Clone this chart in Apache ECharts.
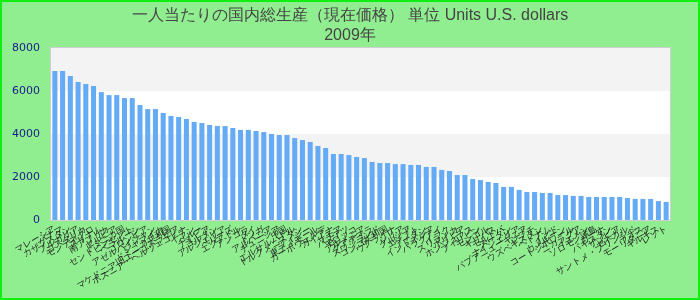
<!DOCTYPE html>
<html>
<head>
<meta charset="utf-8">
<script src="https://cdn.jsdelivr.net/npm/echarts@6/dist/echarts.min.js"></script>
<style>
html,body{margin:0;padding:0;}
#chart{width:700px;height:300px;}
</style>
</head>
<body>
<div id="chart"></div>
<script>
var titleText = "一人当たりの国内総生産（現在価格） 単位 Units U.S. dollars\n2009年";
var categories = [
"マレーシア","パナマ","カザフスタン","ブルガリア","コスタリカ","モンテネグロ","スリナム","南アフリカ","セルビア","ドミニカ国",
"セントビンセント","ベラルーシ","コロンビア","アゼルバイジャン","ジャマイカ","ドミニカ共和国","マケドニア旧ユーゴスラビア","ボスニア・ヘルツェゴビナ","イラン","ペルー",
"ナミビア","ヨルダン","アルジェリア","ベリーズ","エクアドル","アンゴラ","タイ","トンガ","アルバニア","チュニジア",
"中国","エルサルバドル","トルクメニスタン","フィジー","東ティモール","カーボヴェルデ","ガイアナ","サモア","バヌアツ","モロッコ",
"アルメニア","グアテマラ","スワジランド","コンゴ共和国","ウクライナ","シリア","グルジア","エジプト","ブータン","インドネシア",
"パラグアイ","イラク","スリランカ","ボリビア","ホンジュラス","フィリピン","モンゴル","キリバス","モルドバ","スーダン",
"ナイジェリア","パプアニューギニア","ジブチ","ウズベキスタン","ベトナム","インド","カメルーン","コートジボワール","ニカラグア","イエメン",
"ソロモン諸島","ガーナ","パキスタン","ザンビア","セネガル","サントメ・プリンシペ","ラオス","モーリタニア","キルギス","レソト"
];
var values = [
6930,6930,6700,6420,6330,6230,5950,5810,5810,5670,
5670,5350,5160,5160,4980,4840,4790,4700,4560,4510,
4420,4370,4370,4280,4190,4190,4140,4090,4000,3950,
3950,3810,3720,3630,3440,3350,3070,3070,3020,2930,
2880,2700,2650,2650,2600,2600,2560,2560,2470,2470,
2330,2280,2090,2090,1910,1860,1770,1720,1540,1540,
1400,1300,1300,1260,1260,1160,1160,1120,1120,1070,
1070,1070,1070,1070,1020,980,980,980,880,840
];
var yTicks = {min: 0, max: 8000, interval: 2000};

var chart = echarts.init(document.getElementById('chart'), null, {renderer: 'canvas'});
chart.setOption({
  backgroundColor: '#90ee90',
  animation: false,
  title: {
    text: titleText,
    left: 'center',
    top: 1,
    textStyle: {color: '#444', fontSize: 16, fontWeight: 'normal', lineHeight: 20, fontFamily: 'Liberation Sans, Arial, sans-serif'}
  },
  graphic: [{
    type: 'rect',
    shape: {x: 1, y: 1, width: 698, height: 298},
    style: {fill: 'none', stroke: '#11ee11', lineWidth: 2},
    silent: true
  }],
  grid: {left: 51, right: 30, top: 48, bottom: 80, show: true, borderColor: '#d0d0d0', borderWidth: 2, backgroundColor: 'transparent'},
  xAxis: {
    type: 'category',
    data: categories,
    axisTick: {show: false},
    axisLine: {show: false},
    axisLabel: {interval: 0, rotate: 30, fontSize: 9, color: '#222', margin: 8}
  },
  yAxis: {
    type: 'value',
    min: yTicks.min, max: yTicks.max, interval: yTicks.interval,
    axisLine: {show: false},
    axisTick: {show: false},
    splitLine: {show: false},
    splitArea: {show: true, areaStyle: {color: ['#ffffff', '#f3f3f3']}},
    axisLabel: {color: '#1a1a8c', fontSize: 11, margin: 11, fontFamily: 'DejaVu Sans, sans-serif',
      formatter: function (v) { return String(v); }}
  },
  series: [{
    type: 'bar',
    data: values,
    barCategoryGap: '35%',
    itemStyle: {color: '#64aaf4'}
  }]
});
</script>
</body>
</html>
